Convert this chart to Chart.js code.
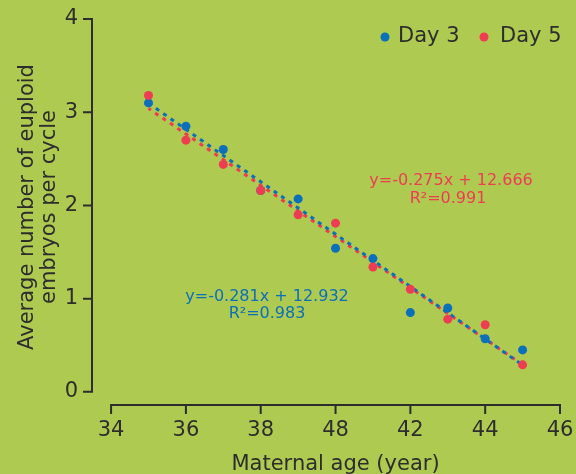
<!DOCTYPE html>
<html>
<head>
<meta charset="utf-8">
<script src="https://cdn.jsdelivr.net/npm/chart.js@4"></script>
<style>
  html, body { margin: 0; padding: 0; background: #afca50; }
  canvas { display: block; }
</style>
</head>
<body>
<canvas id="c" width="576" height="474"></canvas>
<script>
// ---- data ----
const ages = [35, 36, 37, 38, 39, 40, 41, 42, 43, 44, 45];
const day3 = [3.10, 2.85, 2.60, 2.16, 2.07, 1.54, 1.43, 0.85, 0.90, 0.57, 0.45];
const day5 = [3.18, 2.70, 2.44, 2.16, 1.90, 1.81, 1.34, 1.10, 0.78, 0.72, 0.29];
const fitDay3 = { slope: -0.281, intercept: 12.932 };
const fitDay5 = { slope: -0.275, intercept: 12.666 };
const eqDay3 = ['y=-0.281x + 12.932', 'R\u00B2=0.983'];
const eqDay5 = ['y=-0.275x + 12.666', 'R\u00B2=0.991'];
const xTickValues = [34, 36, 38, 40, 42, 44, 46];
const xTickLabels = ['34', '36', '38', '48', '42', '44', '46'];
const yTickValues = [0, 1, 2, 3, 4];
const seriesNames = ['Day 3', 'Day 5'];
const xTitle = 'Maternal age (year)';
const yTitle = ['Average number of euploid', 'embryos per cycle'];

// ---- style ----
const BG = '#afca50';
const BLUE = '#0b6fba';
const RED = '#ee3d52';
const INK = '#2d2d2d';
const FONT = '"DejaVu Sans", Verdana, sans-serif';

const pts = (ys) => ages.map((x, i) => ({ x: x, y: ys[i] }));
const fitLine = (f) => [ages[0], ages[ages.length - 1]].map(x => ({ x: x, y: f.slope * x + f.intercept }));

const decor = {
  id: 'decor',
  beforeDraw(chart) {
    const ctx = chart.ctx;
    ctx.save();
    ctx.fillStyle = BG;
    ctx.fillRect(0, 0, chart.width, chart.height);
    ctx.restore();
  },
  afterDraw(chart) {
    const ctx = chart.ctx;
    const xs = chart.scales.x, ys = chart.scales.y;
    const area = chart.chartArea;
    ctx.save();
    ctx.strokeStyle = INK;
    ctx.lineWidth = 2;
    ctx.lineCap = 'butt';
    // y axis
    const yx = area.left;
    const yTop = ys.getPixelForValue(yTickValues[yTickValues.length - 1]);
    const yBot = ys.getPixelForValue(yTickValues[0]);
    ctx.beginPath();
    ctx.moveTo(yx, yTop - 1);
    ctx.lineTo(yx, yBot + 1);
    yTickValues.forEach(v => {
      const p = ys.getPixelForValue(v);
      ctx.moveTo(yx, p);
      ctx.lineTo(yx - 9, p);
    });
    ctx.stroke();
    // x axis
    const xy = area.bottom;
    const xL = xs.getPixelForValue(xTickValues[0]);
    const xR = xs.getPixelForValue(xTickValues[xTickValues.length - 1]);
    ctx.beginPath();
    ctx.moveTo(xL - 1, xy);
    ctx.lineTo(xR + 1, xy);
    xTickValues.forEach(v => {
      const p = xs.getPixelForValue(v);
      ctx.moveTo(p, xy);
      ctx.lineTo(p, xy + 9);
    });
    ctx.stroke();

    // axis titles
    ctx.fillStyle = INK;
    ctx.font = '21px ' + FONT;
    ctx.textAlign = 'center';
    ctx.textBaseline = 'alphabetic';
    ctx.fillText(xTitle, (xL + xR) / 2, 470);
    ctx.save();
    ctx.translate(0, 207);
    ctx.rotate(-Math.PI / 2);
    ctx.fillText(yTitle[0], 0, 33);
    ctx.fillText(yTitle[1], 0, 55);
    ctx.restore();

    // legend
    const legendItems = [
      { name: seriesNames[0], color: BLUE, dotX: 385, textX: 398 },
      { name: seriesNames[1], color: RED, dotX: 484, textX: 500 }
    ];
    ctx.textAlign = 'left';
    ctx.textBaseline = 'middle';
    legendItems.forEach(it => {
      ctx.fillStyle = it.color;
      ctx.beginPath();
      ctx.arc(it.dotX, 37, 4.5, 0, Math.PI * 2);
      ctx.fill();
      ctx.fillStyle = INK;
      ctx.fillText(it.name, it.textX, 37);
    });

    // equations
    ctx.font = '16px ' + FONT;
    ctx.textAlign = 'center';
    ctx.textBaseline = 'middle';
    ctx.fillStyle = RED;
    ctx.fillText(eqDay5[0], 451, 181);
    ctx.fillText(eqDay5[1], 448, 199);
    ctx.fillStyle = BLUE;
    ctx.fillText(eqDay3[0], 267, 297);
    ctx.fillText(eqDay3[1], 267, 314);
    ctx.restore();
  }
};

const zeroPad = (s) => { s.paddingLeft = 0; s.paddingRight = 0; s.paddingTop = 0; s.paddingBottom = 0; };

new Chart(document.getElementById('c'), {
  type: 'scatter',
  data: {
    datasets: [
      { label: seriesNames[1], data: pts(day5), backgroundColor: RED, borderColor: RED,
        pointRadius: 4.5, borderWidth: 0, order: 0 },
      { label: seriesNames[0], data: pts(day3), backgroundColor: BLUE, borderColor: BLUE,
        pointRadius: 4.5, borderWidth: 0, order: 1 },
      { type: 'line', label: 'fit3', data: fitLine(fitDay3), borderColor: BLUE, borderWidth: 3,
        borderDash: [4, 5], pointRadius: 0, fill: false, order: 2 },
      { type: 'line', label: 'fit5', data: fitLine(fitDay5), borderColor: RED, borderWidth: 3,
        borderDash: [4, 5], borderDashOffset: 1, pointRadius: 0, fill: false, order: 3 }
    ]
  },
  options: {
    responsive: false,
    animation: false,
    devicePixelRatio: 1,
    layout: { padding: { left: 0, right: 16, top: 19, bottom: 0 } },
    plugins: { legend: { display: false }, tooltip: { enabled: false } },
    scales: {
      x: {
        type: 'linear', min: 33.49, max: 46,
        border: { display: false },
        grid: { display: false, drawTicks: false, tickLength: 0 },
        afterBuildTicks: (s) => { s.ticks = xTickValues.map(v => ({ value: v })); },
        afterFit: (s) => { s.height = 69; zeroPad(s); },
        ticks: {
          padding: 13, color: INK, font: { family: FONT, size: 21 },
          maxRotation: 0, autoSkip: false,
          callback: (v) => { const i = xTickValues.indexOf(v); return i >= 0 ? xTickLabels[i] : ''; }
        }
      },
      y: {
        type: 'linear', min: -0.141, max: 4,
        border: { display: false },
        grid: { display: false, drawTicks: false, tickLength: 0 },
        afterBuildTicks: (s) => { s.ticks = yTickValues.map(v => ({ value: v })); },
        afterFit: (s) => { s.width = 92; zeroPad(s); },
        ticks: {
          padding: 14, color: INK, font: { family: FONT, size: 21 },
          autoSkip: false, callback: (v) => String(v)
        }
      }
    }
  },
  plugins: [decor]
});
</script>
</body>
</html>
